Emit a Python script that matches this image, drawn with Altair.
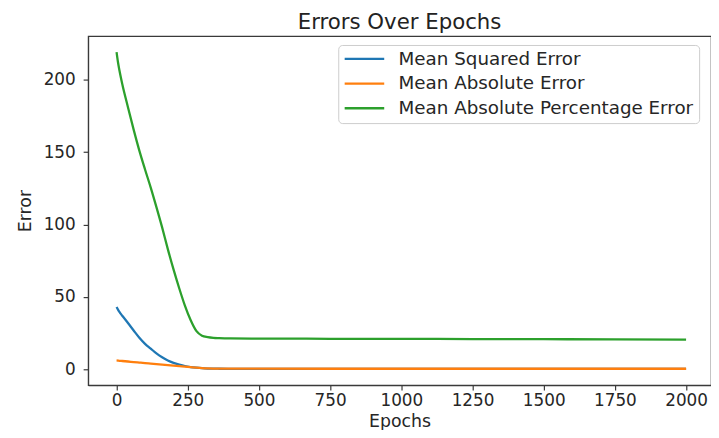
import altair as alt
import pandas as pd

series_names = ["Mean Squared Error", "Mean Absolute Error", "Mean Absolute Percentage Error"]
series_colors = ["#1f77b4", "#ff7f0e", "#2ca02c"]

epochs = [0, 5, 10, 20, 40, 60, 80, 100, 120, 140, 160, 180, 200, 220, 240, 260,
          280, 300, 320, 340, 360, 400, 500, 750, 1000, 1250, 1500, 1750, 2000]

mse = [43.0, 41.2, 39.6, 37.0, 32.0, 26.8, 21.8, 17.6, 14.3, 11.0, 8.3, 6.1, 4.5,
       3.3, 2.3, 1.6, 1.1, 0.75, 0.55, 0.45, 0.4, 0.35, 0.3, 0.3, 0.3, 0.3, 0.3, 0.3, 0.3]

mae = [6.1, 6.0, 5.9, 5.75, 5.4, 5.0, 4.65, 4.3, 3.95, 3.6, 3.25, 2.9, 2.55,
       2.2, 1.85, 1.5, 1.15, 0.85, 0.65, 0.55, 0.5, 0.45, 0.42, 0.4, 0.4, 0.4, 0.4, 0.4, 0.4]

mape = [219.0, 212.0, 206.5, 197.0, 181.0, 165.5, 151.0, 138.0, 125.5, 112.0, 98.0,
        83.0, 69.0, 56.0, 44.0, 34.0, 26.5, 23.2, 22.2, 21.7, 21.5, 21.3, 21.2,
        21.1, 21.0, 20.9, 20.8, 20.7, 20.5]

rows = []
for name, vals in zip(series_names, [mse, mae, mape]):
    for e, v in zip(epochs, vals):
        rows.append({"Epochs": e, "Error": v, "Series": name})
df = pd.DataFrame(rows)

x_ticks = [0, 250, 500, 750, 1000, 1250, 1500, 1750, 2000]
y_ticks = [0, 50, 100, 150, 200]

FONT = "DejaVu Sans"

chart = (
    alt.Chart(df, title=alt.TitleParams("Errors Over Epochs", fontSize=21.5, font=FONT,
                                        fontWeight="normal", color="#222", offset=3))
    .mark_line(strokeWidth=2.3, interpolate="monotone")
    .encode(
        x=alt.X("Epochs:Q",
                scale=alt.Scale(domain=[-100, 2087.5], nice=False, zero=False),
                axis=alt.Axis(values=x_ticks, format="d", title="Epochs", labelPadding=3,
                              titlePadding=4, labelFlush=False)),
        y=alt.Y("Error:Q",
                scale=alt.Scale(domain=[-10.9, 230.1], nice=False, zero=False),
                axis=alt.Axis(values=y_ticks, format="d", title="Error", labelPadding=8,
                              titlePadding=9)),
        color=alt.Color("Series:N",
                        scale=alt.Scale(domain=series_names, range=series_colors),
                        sort=series_names,
                        legend=alt.Legend(title=None, orient="none", legendX=253, legendY=9,
                                          fillColor="white", strokeColor="#cccccc",
                                          cornerRadius=4, padding=5, clipHeight=18,
                                          symbolType="stroke", symbolSize=1600,
                                          symbolStrokeWidth=2.3, labelFontSize=18.5,
                                          labelFont=FONT, labelColor="#262626",
                                          rowPadding=6, labelOffset=13, labelLimit=400)),
        order=alt.Order("Epochs:Q"),
    )
    .properties(width=630, height=353,
                autosize=alt.AutoSizeParams(type="none"),
                padding={"left": 81, "top": 26, "right": 0, "bottom": 43})
    .configure_view(stroke="#3a3a3a", strokeWidth=1.2)
    .configure_axis(grid=False, domain=True, domainColor="#3a3a3a", domainWidth=1.2,
                    tickColor="#3a3a3a", tickSize=5, tickWidth=1.2,
                    labelFont=FONT, labelFontSize=17, labelColor="#262626",
                    titleFont=FONT, titleFontSize=17.5, titleColor="#262626",
                    titleFontWeight="normal")
)

chart.save("out.html", embed_options={"renderer": "svg", "actions": False})
